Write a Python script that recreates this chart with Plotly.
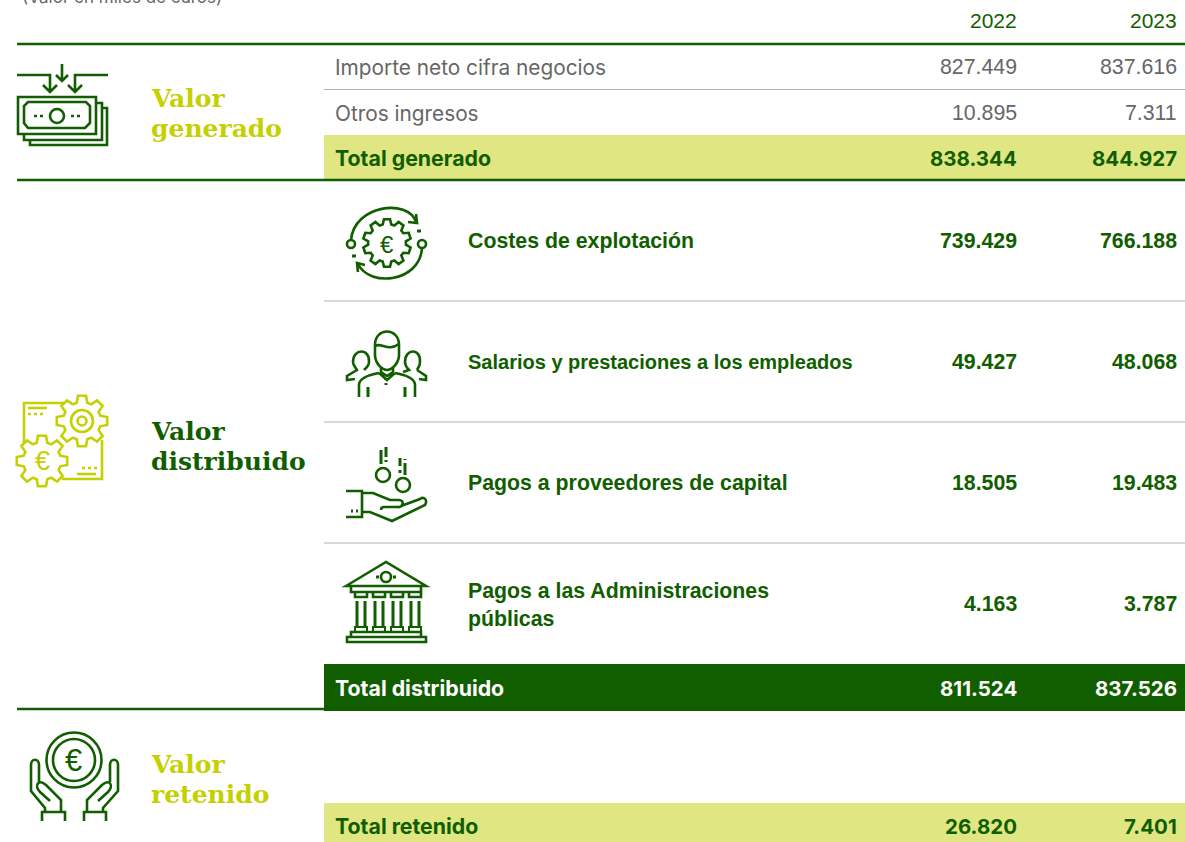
import math
import plotly.graph_objects as go

DARK = "#115E00"
LIME = "#C5D000"
LIGHT = "#DFE682"
GREY = "#666666"
RULE = "#B2B2B2"
SANS = "Liberation Sans"
WIDE = "Inter"
SERIF = "DejaVu Serif"

years = ["2022", "2023"]
income_labels = ["Importe neto cifra negocios", "Otros ingresos"]
income_2022 = ["827.449", "10.895"]
income_2023 = ["837.616", "7.311"]
dist_labels = ["Costes de explotación", "Salarios y prestaciones a los empleados",
               "Pagos a proveedores de capital", "Pagos a las Administraciones<br>públicas"]
dist_sizes = [21.3, 20, 21.3, 21.3]
dist_label_y = [241, 362, 483, 605]
dist_value_y = [241, 362, 483, 604]
dist_2022 = ["739.429", "49.427", "18.505", "4.163"]
dist_2023 = ["766.188", "48.068", "19.483", "3.787"]
total_labels = ["Total generado", "Total distribuido", "Total retenido"]
total_2022 = ["838.344", "811.524", "26.820"]
total_2023 = ["844.927", "837.526", "7.401"]
section_labels = [("Valor", "generado"), ("Valor", "distribuido"), ("Valor", "retenido")]

X0, XL, XI, XA, XB, W = 17, 324, 334.5, 1017, 1177, 1185
shapes = []
ann = []


def rect(x0, y0, x1, y1, fill):
    shapes.append(dict(type="rect", x0=x0, x1=x1, y0=y0, y1=y1, fillcolor=fill, line_width=0, layer="below"))


def hline(x0, x1, y, color, w):
    shapes.append(dict(type="line", x0=x0, x1=x1, y0=y, y1=y, line=dict(color=color, width=w), layer="below"))


def txt(x, y, s, color, size, bold=False, anchor="left", font=SANS):
    if bold:
        s = "<b>" + s.replace("<br>", "</b><br><b>") + "</b>"
    shift = 2 if anchor == "right" else -2
    ann.append(dict(x=x + shift, y=y, text=s, showarrow=False, xanchor=anchor, yanchor="middle", align=anchor,
                    xref="x", yref="y", font=dict(family=font, size=size, color=color)))


def icon(path, color, w=2.6, fill=None):
    shapes.append(dict(type="path", path=path, line=dict(color=color, width=w),
                       fillcolor=fill or "rgba(0,0,0,0)", layer="above"))


def circle(cx, cy, r, color, w=2.6):
    k = 0.5523 * r
    icon(f"M{cx-r},{cy} C{cx-r},{cy-k} {cx-k},{cy-r} {cx},{cy-r} C{cx+k},{cy-r} {cx+r},{cy-k} {cx+r},{cy} "
         f"C{cx+r},{cy+k} {cx+k},{cy+r} {cx},{cy+r} C{cx-k},{cy+r} {cx-r},{cy+k} {cx-r},{cy} Z", color, w)


def gear(cx, cy, ro, ri, n, color, w=2.6):
    pts = []
    for k in range(n):
        for da, r in ((-0.36, ri), (-0.20, ro), (0.20, ro), (0.36, ri)):
            a = 2 * math.pi * (k + da) / n - math.pi / 2
            pts.append((cx + r * math.cos(a), cy + r * math.sin(a)))
    icon("M" + " L".join(f"{x:.1f},{y:.1f}" for x, y in pts) + " Z", color, w)


def euro(x, y, color, size):
    ann.append(dict(x=x, y=y, text="€", showarrow=False, xanchor="center", yanchor="middle", xref="x", yref="y",
                    font=dict(family=SANS, size=size, color=color)))


# bands and rules
rect(XL, 135, W, 179, LIGHT)
rect(XL, 664, W, 711, DARK)
rect(XL, 803, W, 842, LIGHT)
hline(X0, W, 44, DARK, 2.6)
hline(X0, W, 180, DARK, 2.6)
hline(X0, XL, 709, DARK, 2.6)
hline(XL, W, 89.5, RULE, 1.2)
for y in (301, 422, 543):
    hline(XL, W, y, RULE, 1.2)

# subtitle, cut by the top edge as in the reference
ann.append(dict(x=20, y=1 + 3.5 / 842, xref="x", yref="paper", text="(Valor en miles de euros)", showarrow=False,
                xanchor="left", yanchor="middle", font=dict(family=WIDE, size=17, color=GREY)))

# headers
txt(XA, 20.5, years[0], DARK, 21, anchor="right")
txt(XB, 20.5, years[1], DARK, 21, anchor="right")

# income rows
for y, lab, a, b in zip((67, 113), income_labels, income_2022, income_2023):
    txt(XI, y, lab, GREY, 20.8, font=WIDE)
    txt(XA, y, a, GREY, 21.3, anchor="right")
    txt(XB, y, b, GREY, 21.3, anchor="right")

# distribution rows
for yl, yv, lab, sz, a, b in zip(dist_label_y, dist_value_y, dist_labels, dist_sizes, dist_2022, dist_2023):
    txt(468, yl, lab, DARK, sz, bold=True)
    txt(XA, yv, a, DARK, 21.3, bold=True, anchor="right")
    txt(XB, yv, b, DARK, 21.3, bold=True, anchor="right")

# totals
for y, lab, a, b, c in zip((158, 688, 826), total_labels, total_2022, total_2023, (DARK, "#FFFFFF", DARK)):
    txt(XI, y, lab, c, 21.3, bold=True, font=WIDE)
    txt(XA, y, a, c, 20.5, bold=True, anchor="right", font=WIDE)
    txt(XB, y, b, c, 20.5, bold=True, anchor="right", font=WIDE)

# section titles
for y, (l1, l2), c in zip((98, 431, 764), section_labels, (LIME, DARK, LIME)):
    txt(150.5, y, l1, c, 25, bold=True, font=SERIF)
    txt(150.5, y + 30, l2, c, 25, bold=True, font=SERIF)

# icon: generated value (banknotes and arrows)
d = DARK
icon("M17,75 H50 V91 M43,85 L50,92 L57,85", d)
icon("M108,75 H75 V91 M68,85 L75,92 L82,85", d)
icon("M62,64 V80 M56,75 L62,81 L68,75", d)
icon("M18,97 H96 V134 H18 Z", d)
icon("M96,103 H102 V140 H24 V134", d)
icon("M102,108 H107 V145 H30 V140", d)
icon("M28,102 H86 L90,106 V123 L85,128 H28 L24,123 V106 Z", d)
circle(57, 116, 7, d)
icon("M34,116 H37 M40,116 H43 M71,116 H74 M77,116 H80", d)

# icon: distributed value (gears and panel)
l = LIME
icon("M24,443 V403 H64 M102,440 V479 H62", l)
icon("M28,408 H47 M28,414 H31 M34,414 H37 M40,414 H43", l)
icon("M77,474 H96 M82,468 H85 M88,468 H91 M94,468 H97", l)
gear(82, 421, 25.5, 19, 8, l)
circle(82, 421, 11, l)
circle(82, 421, 4.5, l)
gear(42, 461, 25.5, 19, 8, l)
euro(42, 461, l, 27)

# icon: running costs (gear with circular arrows)
gear(387, 243, 24, 19, 10, d)
euro(387, 244, d, 24)
icon("M351,240 C354,205 408,198 416,222", d)
icon("M408,222 L417,223 L416,214", d)
icon("M422,248 C420,282 370,288 358,264", d)
icon("M365,265 L357,263 L358,272", d)
circle(351, 244, 4, d)
circle(422, 244, 4, d)
icon("M417,231 H421 M352,256 H356", d, 3)

# icon: employees (three busts)
icon("M375,345 C375,327 399,327 399,345 V356 C398,365 391,370 387,370 C383,370 376,365 375,356 Z", d)
icon("M375,346 C381,342 388,352 399,344 M381,368 V372 L387,376 L393,372 V368 M379,373 L387,380 L395,373", d)
icon("M359,397 V385 C359,378 368,375 379,373 M415,397 V385 C415,378 406,375 395,373", d)
icon("M368,387 V397 M405,387 V397 M386,378 V380 M386,383 V385", d, 3)
icon("M353,362 C353,348 370,348 369,362 C369,366 366,368 364,370 M353,362 C353,366 356,368 357,370 L347,376 V380 L355,379", d)
icon("M405,362 C405,348 421,348 420,362 C420,366 418,368 417,370 M405,362 C405,366 407,368 409,370 L403,372 M417,370 L426,376 V380 L419,379", d)

# icon: capital providers (hand and coins)
circle(383, 475, 7, d)
circle(403, 485, 7, d)
icon("M381,450 V464 M386,447 V457 M386,460 V462", d, 3)
icon("M400,458 V466 M400,470 V473 M405,463 V475 M405,459 V460", d, 3)
icon("M346,491 H362 V517 H346 M362,493 H373 L390,500 H399 C405,500 403,508 398,507 H384 C381,507 381,509 381,510", d)
icon("M362,512 H370 L392,521 L425,505 C428,500 424,496 420,499 L401,506", d)
icon("M351,511 H353 M356,511 H358", d, 3)

# icon: public administrations (temple)
icon("M346,586 L386,562 L426,586 Z", d)
circle(386, 577, 5, d)
icon("M376,577 H379 M393,577 H396", d, 3)
icon("M351,587 V592 H421 V587", d)
for cx in (361, 379, 397, 415):
    icon(f"M{cx-6},593 V597 H{cx+6} V593", d)
    icon(f"M{cx-4},601 V626 M{cx+4},601 V626", d, 3)
    icon(f"M{cx-6},627 H{cx+6} V632 H{cx-6} Z", d, 2)
icon("M351,632 H421 V637 H351 Z M347,637 H426 V642 H347 Z", d)

# icon: retained value (coin in open hands)
circle(74, 760, 27.5, d)
circle(74, 760, 21, d)
euro(73, 760, d, 31)
icon("M42,821 V812 H65 V821 M45,812 V808 L31,791 V765 C31,758 39,758 39,765 V782", d)
icon("M61,812 V800 L46,785 C38,778 34,786 40,792 L50,801", d)
icon("M84,821 V812 H106 V821 M103,812 V808 L118,791 V765 C118,758 110,758 110,765 V782", d)
icon("M87,812 V800 L102,785 C110,778 114,786 108,792 L98,801", d)

fig = go.Figure()
fig.update_layout(
    width=1185, height=842, margin=dict(l=0, r=0, t=0, b=0),
    paper_bgcolor="white", plot_bgcolor="white", showlegend=False,
    xaxis=dict(range=[0, 1185], visible=False, fixedrange=True),
    yaxis=dict(range=[842, 0], visible=False, fixedrange=True),
    shapes=shapes, annotations=ann,
)
fig.write_html("out.html", config={"displayModeBar": False},
               post_script="document.body.style.margin='0';document.body.style.overflow='hidden';")
